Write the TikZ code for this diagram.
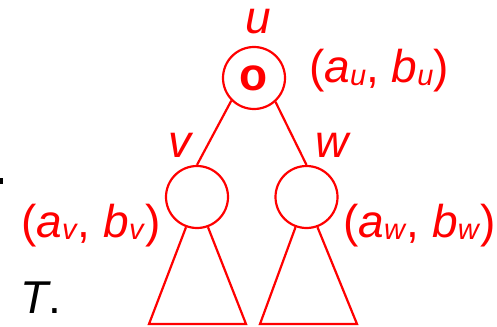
\documentclass[tikz,border=0pt]{standalone}
\usepackage{fontspec}
\setmainfont{Liberation Sans}
\usepackage{xcolor}
\usetikzlibrary{positioning}

\newcommand{\sub}[1]{{\fontsize{29}{30}\selectfont\raisebox{-2pt}{\textit{#1}}}}
\newcommand{\ab}[1]{(\textit{a}\sub{#1}, \textit{b}\sub{#1})}

\begin{document}
\begin{tikzpicture}[x=1pt, y=-1pt,
  vertex/.style={circle, draw=red, line width=2.2pt, minimum size=62pt, inner sep=0pt},
  lbl/.style={inner sep=0pt, text=red, font=\fontsize{46}{52}\selectfont},
  edge/.style={draw=red, line width=2.2pt}]

  \useasboundingbox (0,0) rectangle (497,326);

  % Root and its children
  \node[vertex, lbl] (u) at (254,78) {\textbf{o}};
  \node[vertex] (v) at (197,197) {};
  \node[vertex] (w) at (306.5,197) {};

  % Node names
  \node[lbl, anchor=base] (ulbl) at (258,34) {\textit{u}};
  \node[lbl, anchor=base] (vlbl) at (181,157) {\textit{v}};
  \node[lbl, anchor=base] (wlbl) at (333,157) {\textit{w}};

  % Pairs
  \node[lbl, anchor=base west] (upair) at (309,83) {\ab{u}};
  \node[lbl, anchor=base west] (vpair) at (21,237) {\ab{v}};
  \node[lbl, anchor=base west] (wpair) at (343,237) {\ab{w}};

  % Edges
  \draw[edge] (u.225) -- (v.north);
  \draw[edge] (u.-48) -- (w.north);

  % Subtrees
  \draw[edge] (v.250) -- (149,324) -- (246,324) -- (v.290);
  \draw[edge] (w.250) -- (260,324) -- (357,324) -- (w.290);

  % Tree name
  \node[lbl, text=black, anchor=base west] (tname) at (20,313) {\textit{T}.};
  \fill (0,178) rectangle (3,184);

\end{tikzpicture}
\end{document}
